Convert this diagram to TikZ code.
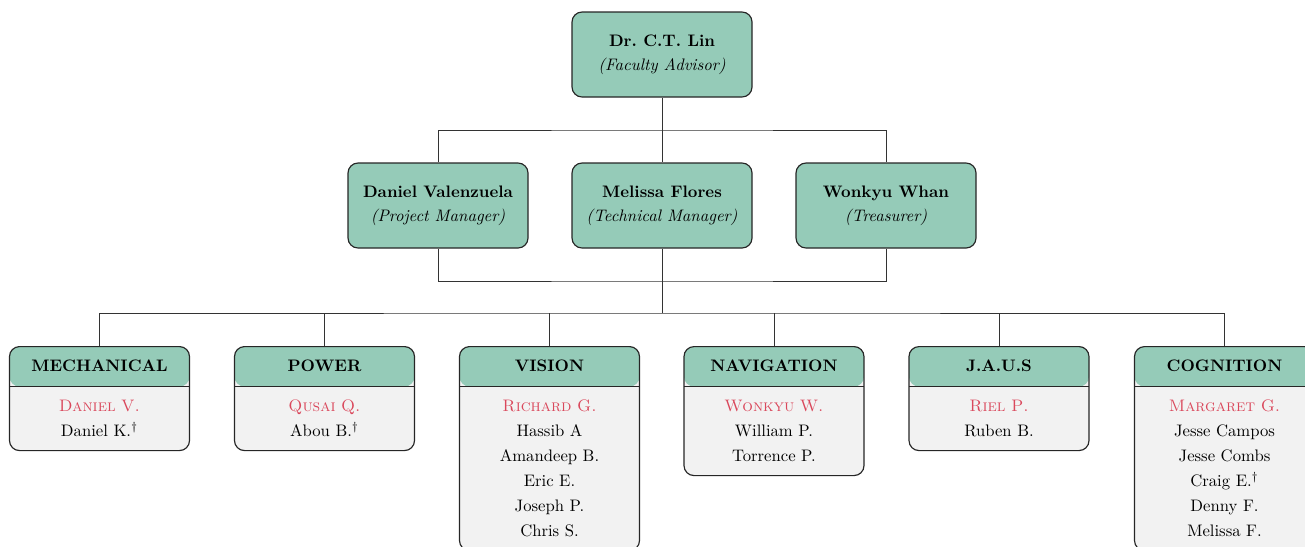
\documentclass[tikz,border=0pt]{standalone}
\usepackage{xcolor}
\definecolor{headgreen}{RGB}{149,203,184}
\definecolor{bodygrey}{RGB}{242,242,242}
\definecolor{leadred}{RGB}{218,72,92}
\newcommand{\lead}[1]{{\color{leadred}\textsc{#1}}}
\newcommand{\hdstrut}{\rule{0pt}{14.8pt}}
\newcommand{\ftstrut}{\rule[-8.4pt]{0pt}{8.4pt}}
\tikzset{
  officer/.style={draw=black!85, line width=0.7pt, fill=headgreen, rounded corners=6pt,
    minimum width=108pt, minimum height=51pt, align=center,
    font=\fontsize{10}{14.6}\selectfont},
  team/.style={draw=black!85, line width=0.7pt, fill=bodygrey, rounded corners=6pt,
    minimum width=108pt, text width=104pt, inner xsep=2pt, inner ysep=0pt,
    anchor=north, align=center, font=\fontsize{10}{15}\selectfont,
    path picture={
      \fill[headgreen] (path picture bounding box.north west) rectangle
        ([yshift=-24pt]path picture bounding box.north east);
      \draw[black!85, line width=0.7pt] ([yshift=-24pt]path picture bounding box.north west) --
        ([yshift=-24pt]path picture bounding box.north east);
    }},
  link/.style={draw=black!80, line width=0.5pt}
}
\begin{document}
\begin{tikzpicture}[x=0.6pt,y=-0.6pt]
  \useasboundingbox (0,0) rectangle (1305,546);
  \clip (0,0) rectangle (1305,546);

  % officers
  \node[officer] (lin) at (662,54.5) {\textbf{Dr.\ C.T. Lin}\\ \textit{(Faculty Advisor)}};
  \node[officer] (pm) at (438,205.5) {\textbf{Daniel Valenzuela}\\ \textit{(Project Manager)}};
  \node[officer] (tm) at (662,205.5) {\textbf{Melissa Flores}\\ \textit{(Technical Manager)}};
  \node[officer] (tr) at (886,205.5) {\textbf{Wonkyu Whan}\\ \textit{(Treasurer)}};

  % teams
  \node[team] (mech) at (99.5,346) {\hdstrut\textbf{MECHANICAL}\\[9.2pt]
    \lead{Daniel V.}\\ Daniel K.$^\dagger$\ftstrut};
  \node[team] (power) at (324.5,346) {\hdstrut\textbf{POWER}\\[9.2pt]
    \lead{Qusai Q.}\\ Abou B.$^\dagger$\ftstrut};
  \node[team] (vision) at (549.5,346) {\hdstrut\textbf{VISION}\\[9.2pt]
    \lead{Richard G.}\\ Hassib A\\ Amandeep B.\\ Eric E.\\ Joseph P.\\ Chris S.\ftstrut};
  \node[team] (nav) at (774,346) {\hdstrut\textbf{NAVIGATION}\\[9.2pt]
    \lead{Wonkyu W.}\\ William P.\\ Torrence P.\ftstrut};
  \node[team] (jaus) at (999,346) {\hdstrut\textbf{J.A.U.S}\\[9.2pt]
    \lead{Riel P.}\\ Ruben B.\ftstrut};
  \node[team] (cog) at (1224.5,346) {\hdstrut\textbf{COGNITION}\\[9.2pt]
    \lead{Margaret G.}\\ Jesse Campos\\ Jesse Combs\\ Craig E.$^\dagger$\\ Denny F.\\ Melissa F.\ftstrut};

  % connectors
  \coordinate (upbus) at (662,130);
  \coordinate (midbus) at (662,281);
  \coordinate (teambus) at (662,313);
  \draw[link] (lin) -- (tm);
  \draw[link] (pm.north) |- (upbus) -| (tr.north);
  \draw[link] (pm.south) |- (midbus) -| (tr.south);
  \draw[link] (tm.south) -- (teambus);
  \draw[link] (mech.north) |- (teambus) -| (cog.north);
  \foreach \t in {power,vision,nav,jaus}
    \draw[link] (\t.north) -- (\t.north |- teambus);
\end{tikzpicture}
\end{document}
